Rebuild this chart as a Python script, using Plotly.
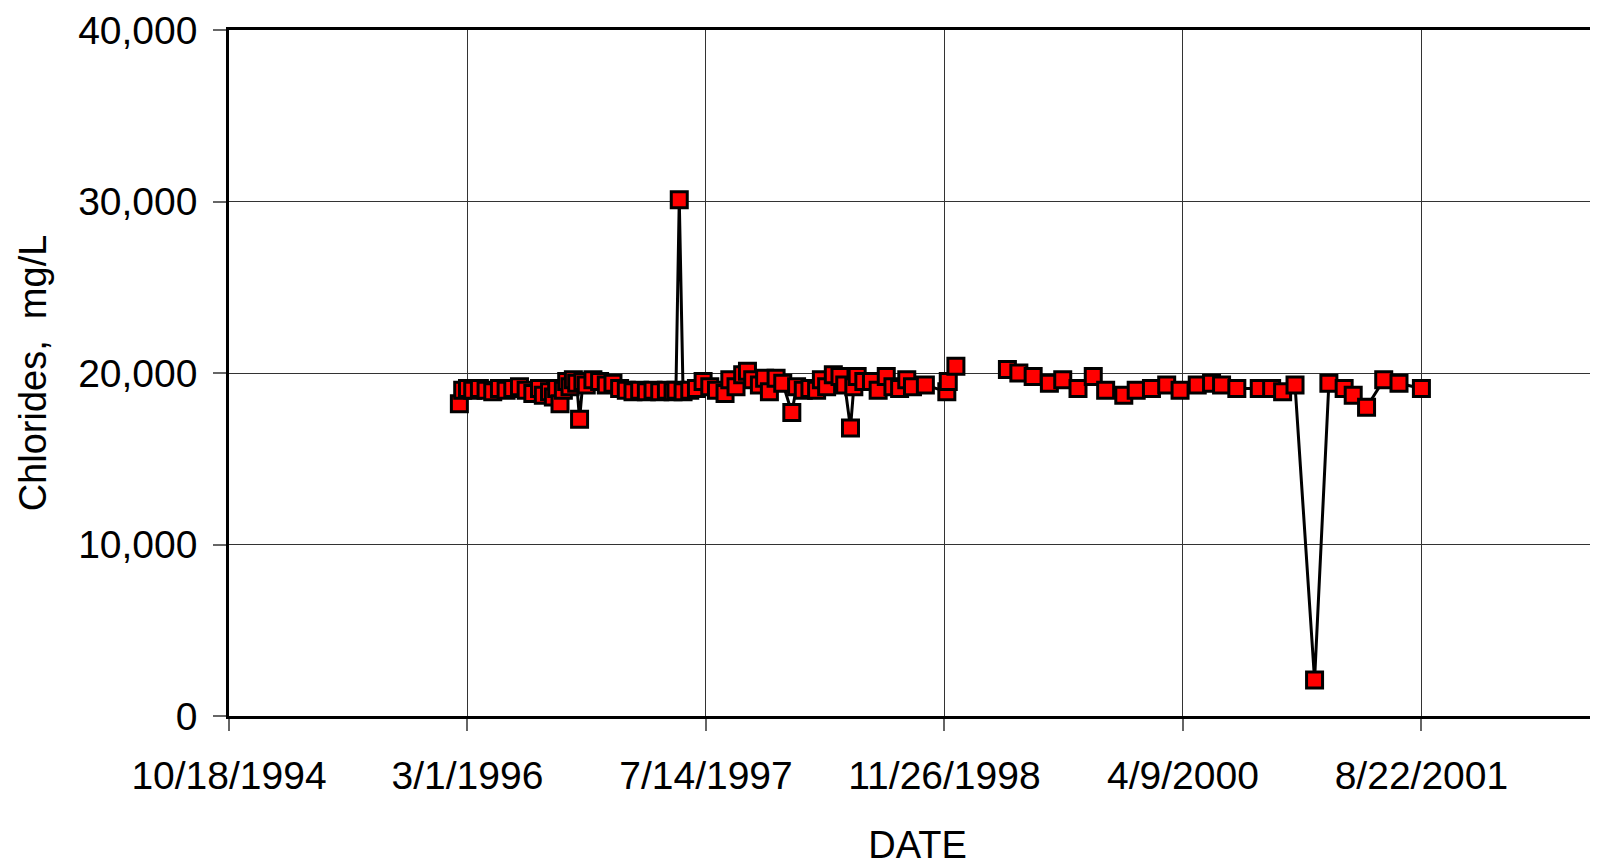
import plotly.graph_objects as go

# chloride samples, 1996 - 1998 (sampled roughly every one to two weeks)
dates_a = [
    "1996-02-13", "1996-02-20", "1996-03-01", "1996-03-12", "1996-03-26", "1996-04-09",
    "1996-04-23", "1996-05-07", "1996-05-21", "1996-06-04", "1996-06-18", "1996-07-02",
    "1996-07-16", "1996-07-30", "1996-08-07", "1996-08-20", "1996-08-28", "1996-09-04",
    "1996-09-11", "1996-09-18", "1996-09-25", "1996-10-02", "1996-10-09", "1996-10-16",
    "1996-10-22", "1996-10-29", "1996-11-05", "1996-11-19", "1996-12-03", "1996-12-17",
    "1996-12-31", "1997-01-14", "1997-01-28", "1997-02-11", "1997-02-25", "1997-03-11",
    "1997-03-25", "1997-04-08", "1997-04-22", "1997-05-06", "1997-05-12", "1997-05-19",
    "1997-05-27", "1997-06-10", "1997-06-24", "1997-07-08", "1997-07-22", "1997-08-05",
    "1997-08-23", "1997-09-02", "1997-09-15", "1997-09-29", "1997-10-09", "1997-10-20",
    "1997-11-03", "1997-11-14", "1997-11-24", "1997-12-08", "1997-12-22", "1998-01-10",
    "1998-01-20", "1998-02-03", "1998-02-17", "1998-03-03", "1998-03-13", "1998-03-24",
    "1998-04-07", "1998-04-21", "1998-05-01", "1998-05-13", "1998-05-20", "1998-05-27",
    "1998-06-10", "1998-06-26", "1998-07-10", "1998-07-27", "1998-08-10", "1998-08-24",
    "1998-09-08", "1998-09-20", "1998-10-17", "1998-12-01", "1998-12-04", "1998-12-20",
]
chlorides_a = [
    18200, 19000, 19100, 19000, 19100, 19000,
    18900, 19100, 19000, 19100, 19200, 19000,
    18800, 19100, 18700, 18900, 18600, 19100,
    18200, 19000, 19500, 19200, 19600, 19400,
    17300, 19500, 19300, 19600, 19500, 19300,
    19400, 19100, 19000, 18900, 19000, 18900,
    19000, 18900, 19000, 18900, 19000, 30100,
    18900, 19000, 19100, 19500, 19200, 19000,
    18800, 19600, 19200, 19900, 20100, 19600,
    19300, 19700, 18900, 19700, 19400, 17700,
    19200, 19000, 19100, 19000, 19600, 19200,
    19900, 19800, 19300, 16800, 19200, 19800,
    19500, 19500, 19000, 19800, 19200, 19100,
    19600, 19200, 19300, 18900, 19500, 20400,
]

# chloride samples, 1999 - 2001 (roughly monthly)
dates_b = [
    "1999-04-07", "1999-05-01", "1999-05-31", "1999-07-04", "1999-08-01", "1999-09-02",
    "1999-10-04", "1999-10-30", "1999-12-07", "2000-01-02", "2000-02-03", "2000-03-06",
    "2000-04-03", "2000-05-09", "2000-06-08", "2000-06-29", "2000-07-31", "2000-09-16",
    "2000-10-12", "2000-11-04", "2000-11-30", "2001-01-10", "2001-02-09", "2001-03-13",
    "2001-04-01", "2001-04-29", "2001-06-04", "2001-07-06", "2001-08-22",
]
chlorides_b = [
    20200, 20000, 19800, 19400, 19600, 19100,
    19800, 19000, 18700, 19000, 19100, 19300,
    19000, 19300, 19400, 19300, 19100, 19100,
    19100, 18900, 19300, 2100, 19400, 19100,
    18700, 18000, 19600, 19400, 19100,
]

font_name = "Liberation Sans, Arial, sans-serif"

fig = go.Figure()
for xs, ys in [(dates_a, chlorides_a), (dates_b, chlorides_b)]:
    fig.add_trace(go.Scatter(
        x=xs, y=ys, mode="lines+markers",
        line=dict(color="black", width=3),
        marker=dict(symbol="square", size=16, color="#ff0000",
                    line=dict(color="black", width=3)),
        showlegend=False,
    ))

fig.update_layout(
    width=1598, height=862,
    margin=dict(l=221, r=0, t=22, b=154),
    plot_bgcolor="white", paper_bgcolor="white",
    font=dict(family=font_name, size=39, color="black"),
)
fig.update_xaxes(
    type="date",
    range=["1994-10-18", "2002-09-13"],
    tick0="1994-10-18", dtick=500 * 86400000,
    tickformat="%-m/%-d/%Y",
    ticks="outside", ticklen=12, tickwidth=1.5, tickcolor="#666666",
    ticklabelstandoff=11,
    showgrid=True, gridcolor="#333333", gridwidth=1,
    showline=True, linecolor="black", linewidth=2.5, mirror=True,
    zeroline=False,
    title=dict(text="DATE", standoff=36, font=dict(size=38)),
    automargin=False,
)
fig.update_yaxes(
    range=[0, 40000], dtick=10000, tickformat=",d",
    ticks="outside", ticklen=13, tickwidth=1.5, tickcolor="#666666",
    ticklabelstandoff=8,
    showgrid=True, gridcolor="#333333", gridwidth=1,
    showline=True, linecolor="black", linewidth=2.5,
    zeroline=False,
    title=dict(text="Chlorides,  mg/L", standoff=20, font=dict(size=38)),
    automargin=False,
)

fig.write_html("out.html")
